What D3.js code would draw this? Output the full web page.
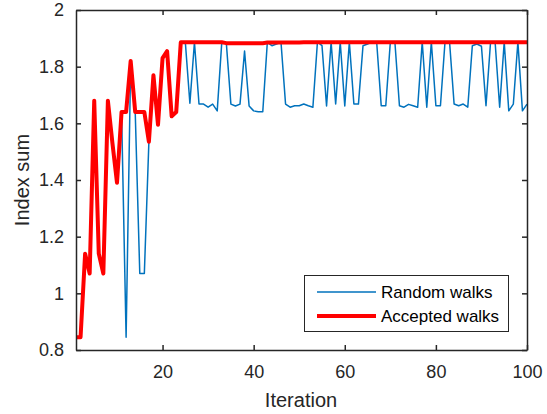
<!DOCTYPE html>
<html>
<head>
<meta charset="utf-8">
<script src="https://cdn.jsdelivr.net/npm/d3@7"></script>
<style>
  body { margin: 0; background: #fff; }
</style>
</head>
<body>
<div id="chart-area"></div>
<script>
/*
*    index sum per iteration
*/

var iterations = d3.range(1, 101);

var randomWalks = [
     0.845, 0.845, 1.14, 1.07, 1.68, 1.14, 1.07, 1.68, 1.53, 1.39,
     1.64, 0.845, 1.815, 1.64, 1.07, 1.07, 1.535, 1.77, 1.595, 1.83,
     1.855, 1.625, 1.64, 1.886, 1.886, 1.671, 1.886, 1.668, 1.668, 1.657,
     1.668, 1.644, 1.886, 1.883, 1.668, 1.661, 1.668, 1.855, 1.661, 1.644,
     1.641, 1.641, 1.886, 1.874, 1.88, 1.886, 1.668, 1.657, 1.662, 1.662,
     1.668, 1.662, 1.657, 1.887, 1.874, 1.661, 1.887, 1.668, 1.887, 1.661,
     1.887, 1.668, 1.668, 1.874, 1.88, 1.887, 1.887, 1.662, 1.662, 1.887,
     1.887, 1.662, 1.657, 1.667, 1.662, 1.657, 1.887, 1.657, 1.887, 1.662,
     1.662, 1.887, 1.887, 1.668, 1.662, 1.668, 1.657, 1.874, 1.88, 1.872,
     1.662, 1.887, 1.887, 1.657, 1.887, 1.644, 1.668, 1.887, 1.644, 1.668
];

var acceptedWalks = [
     0.845, 0.845, 1.14, 1.07, 1.68, 1.14, 1.07, 1.68, 1.53, 1.39,
     1.64, 1.64, 1.82, 1.64, 1.64, 1.64, 1.535, 1.77, 1.595, 1.83,
     1.855, 1.625, 1.64, 1.886, 1.886, 1.886, 1.886, 1.886, 1.886, 1.886,
     1.886, 1.886, 1.886, 1.883, 1.883, 1.883, 1.883, 1.883, 1.883, 1.883,
     1.883, 1.883, 1.885, 1.885, 1.885, 1.885, 1.885, 1.885, 1.885, 1.885,
     1.886, 1.886, 1.886, 1.886, 1.886, 1.886, 1.886, 1.886, 1.886, 1.886,
     1.886, 1.886, 1.886, 1.886, 1.886, 1.886, 1.886, 1.886, 1.886, 1.886,
     1.886, 1.886, 1.886, 1.886, 1.886, 1.886, 1.886, 1.886, 1.886, 1.886,
     1.886, 1.886, 1.886, 1.886, 1.886, 1.886, 1.886, 1.886, 1.886, 1.886,
     1.886, 1.886, 1.886, 1.886, 1.886, 1.886, 1.886, 1.886, 1.886, 1.886
];

var xTicks = [20, 40, 60, 80, 100];
var yTicks = [0.8, 1, 1.2, 1.4, 1.6, 1.8, 2];
var legendLabels = ["Random walks", "Accepted walks"];

var axisColor = "#262626";
var font = "'Liberation Sans', Arial, Helvetica, sans-serif";

var svg = d3.select("#chart-area").append("svg")
     .attr("width", 547)
     .attr("height", 414);

var x = d3.scaleLinear()
     .domain([1, 100])
     .range([76, 527]);

var y = d3.scaleLinear()
     .domain([0.8, 2])
     .range([350, 10]);

var line = d3.line()
     .x((d, i) => { return x(iterations[i]); })
     .y((d) => { return y(d); });

// data lines
svg.append("path")
     .datum(randomWalks)
     .attr("fill", "none")
     .attr("stroke", "#0072BD")
     .attr("stroke-width", 1.5)
     .attr("stroke-linejoin", "round")
     .attr("d", line);

svg.append("path")
     .datum(acceptedWalks)
     .attr("fill", "none")
     .attr("stroke", "#FF0000")
     .attr("stroke-width", 4)
     .attr("stroke-linejoin", "round")
     .attr("d", line);

// axes
var xAxis = svg.append("g")
     .attr("transform", "translate(0,350)")
     .call(d3.axisBottom(x).tickValues(xTicks).tickSizeInner(-5).tickSizeOuter(0).tickPadding(15));

var xTop = svg.append("g")
     .attr("transform", "translate(0,10)")
     .call(d3.axisTop(x).tickValues(xTicks).tickSizeInner(-5).tickSizeOuter(0).tickFormat(""));

var yAxis = svg.append("g")
     .attr("transform", "translate(76,0)")
     .call(d3.axisLeft(y).tickValues(yTicks).tickSizeInner(-5).tickSizeOuter(0).tickPadding(12).tickFormat(d3.format("")));

var yRight = svg.append("g")
     .attr("transform", "translate(527,0)")
     .call(d3.axisRight(y).tickValues(yTicks).tickSizeInner(-5).tickSizeOuter(0).tickFormat(""));

[xAxis, xTop, yAxis, yRight].forEach((g) => {
     g.attr("color", axisColor)
          .attr("font-family", font)
          .attr("font-size", 18);
     g.select(".domain").attr("stroke-width", 1.5);
     g.selectAll(".tick line").attr("stroke-width", 1.5);
});

// axis labels
svg.append("text")
     .attr("x", 301)
     .attr("y", 407)
     .attr("text-anchor", "middle")
     .attr("font-family", font)
     .attr("font-size", 20)
     .attr("fill", axisColor)
     .text("Iteration");

svg.append("text")
     .attr("transform", "translate(29,180) rotate(-90)")
     .attr("text-anchor", "middle")
     .attr("font-family", font)
     .attr("font-size", 20)
     .attr("fill", axisColor)
     .text("Index sum");

// legend
var legend = svg.append("g");

legend.append("rect")
     .attr("x", 304.5)
     .attr("y", 275.5)
     .attr("width", 204)
     .attr("height", 56)
     .attr("fill", "#fff")
     .attr("stroke", axisColor)
     .attr("stroke-width", 1);

var legendColors = ["#0072BD", "#FF0000"];
var legendWidths = [1.5, 4];

legendLabels.forEach((label, i) => {
     var ly = 292 + i * 24;
     legend.append("line")
          .attr("x1", 317)
          .attr("x2", 376)
          .attr("y1", ly)
          .attr("y2", ly)
          .attr("stroke", legendColors[i])
          .attr("stroke-width", legendWidths[i]);
     legend.append("text")
          .attr("x", 381)
          .attr("y", ly + 6)
          .attr("font-family", font)
          .attr("font-size", 17)
          .attr("fill", "#000")
          .text(label);
});
</script>
</body>
</html>
